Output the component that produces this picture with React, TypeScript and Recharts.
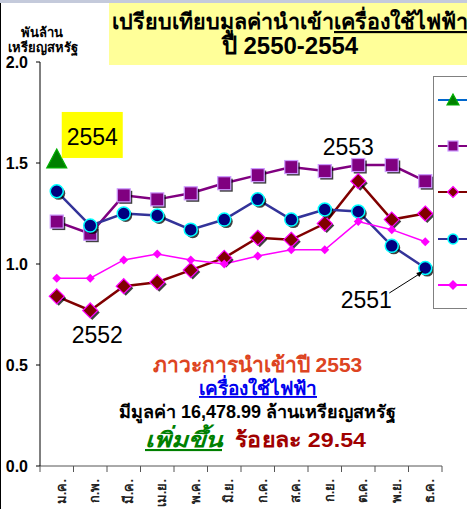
import React from 'react';
import { LineChart, Line, XAxis, YAxis, Legend, LabelList } from 'recharts';

const W = 467;
const H = 509;
const FONT = "'Liberation Sans', Arial, Tahoma, sans-serif";

const months = ['ม.ค.', 'ก.พ.', 'มี.ค.', 'เม.ย.', 'พ.ค.', 'มิ.ย.', 'ก.ค.', 'ส.ค.', 'ก.ย.', 'ต.ค.', 'พ.ย.', 'ธ.ค.'];
const s2550 = [0.93, 0.93, 1.02, 1.05, 1.02, 1.0, 1.04, 1.07, 1.07, 1.21, 1.17, 1.11];
const s2551 = [1.36, 1.19, 1.25, 1.24, 1.17, 1.22, 1.32, 1.22, 1.27, 1.26, 1.09, 0.98];
const s2552 = [0.84, 0.77, 0.89, 0.91, 0.97, 1.03, 1.13, 1.12, 1.2, 1.41, 1.22, 1.25];
const s2553 = [1.21, 1.15, 1.34, 1.32, 1.35, 1.4, 1.44, 1.48, 1.46, 1.49, 1.49, 1.41];
const s2554: (number | null)[] = [1.52, null, null, null, null, null, null, null, null, null, null, null];
const yTicks = [0, 0.5, 1.0, 1.5, 2.0];

const legendItems = [
  { name: '2554', kind: 'triangle', line: '#0066cc' },
  { name: '2553', kind: 'square', line: '#800080' },
  { name: '2552', kind: 'diamond', line: '#800000' },
  { name: '2551', kind: 'circle', line: '#333399' },
  { name: '2550', kind: 'small', line: '#ff00ff' },
];

const data = months.map((m, i) => ({
  month: m,
  y2550: s2550[i],
  y2551: s2551[i],
  y2552: s2552[i],
  y2553: s2553[i],
  y2554: s2554[i],
}));

const MARGIN = { top: 62, right: 25, bottom: 0, left: 0 };
const YW = 40;
const XH = 43;
const BAND = (W - MARGIN.left - MARGIN.right - YW) / months.length;

function shape(kind: string, cx: number, cy: number, legend: boolean): React.ReactNode {
  const sh = legend ? 0 : 2;
  switch (kind) {
    case 'square': {
      const h = legend ? 5 : 6.5;
      return (
        <>
          {sh > 0 && <rect x={cx - h + sh} y={cy - h + sh} width={2 * h} height={2 * h} fill="#000" opacity={0.75} />}
          <rect x={cx - h} y={cy - h} width={2 * h} height={2 * h} fill="#800080" stroke="#cc99ff" strokeWidth={1.2} />
        </>
      );
    }
    case 'diamond': {
      const h = legend ? 5.5 : 7.5;
      const pts = (dx: number, dy: number) =>
        `${cx + dx},${cy - h + dy} ${cx + h + dx},${cy + dy} ${cx + dx},${cy + h + dy} ${cx - h + dx},${cy + dy}`;
      return (
        <>
          {sh > 0 && <polygon points={pts(sh, sh)} fill="#000" opacity={0.75} />}
          <polygon points={pts(0, 0)} fill="#800000" stroke="#ff00ff" strokeWidth={1.2} />
        </>
      );
    }
    case 'circle': {
      const r = legend ? 5 : 6.5;
      return (
        <>
          {sh > 0 && <circle cx={cx + sh} cy={cy + sh} r={r} fill="#000" opacity={0.75} />}
          <circle cx={cx} cy={cy} r={r} fill="#000080" stroke="#00ffff" strokeWidth={1.5} />
        </>
      );
    }
    case 'small': {
      const h = legend ? 5 : 4.5;
      return (
        <polygon
          points={`${cx},${cy - h} ${cx + h},${cy} ${cx},${cy + h} ${cx - h},${cy}`}
          fill="#ff00ff"
        />
      );
    }
    case 'triangle':
    default: {
      const hw = legend ? 6 : 10;
      const up = legend ? 6 : 10;
      const dn = legend ? 5 : 9;
      return (
        <polygon
          points={`${cx},${cy - up} ${cx + hw},${cy + dn} ${cx - hw},${cy + dn}`}
          fill="#008000"
          stroke="#00b000"
          strokeWidth={1.2}
        />
      );
    }
  }
}

const makeDot = (kind: string) => (p: any) => {
  const key = `${kind}-${p.index}`;
  if (p.cx == null || p.cy == null || p.value == null || Number.isNaN(p.cy)) return <g key={key} />;
  return <g key={key}>{shape(kind, p.cx, p.cy, false)}</g>;
};

const XTick = (props: any) => {
  const { x, y, payload, index } = props;
  const half = BAND / 2;
  return (
    <g>
      <line x1={x - half} x2={x - half} y1={y} y2={y + 6} stroke="#555" />
      {index === months.length - 1 && <line x1={x + half} x2={x + half} y1={y} y2={y + 6} stroke="#555" />}
      <text
        transform={`translate(${x + 9},${y + 13}) rotate(-90)`}
        textAnchor="end"
        fontSize={13}
        fontWeight="bold"
        fontFamily={FONT}
        fill="#222"
      >
        {payload.value}
      </text>
    </g>
  );
};

const yearLabel = (idx: number, render: (x: number, y: number) => React.ReactNode) => (props: any) => {
  if (props.index !== idx || props.value == null) return null;
  const x = Number(props.x);
  const y = Number(props.y);
  return <g>{render(x, y)}</g>;
};

// The legend box is cut by the right edge of the picture, as in the reference: only its markers show.
const LegendBox = () => (
  <div
    style={{
      width: 140,
      height: 233,
      boxSizing: 'border-box',
      border: '1px solid #808080',
      background: '#fff',
      display: 'flex',
      flexDirection: 'column',
      justifyContent: 'space-around',
    }}
  >
    {legendItems.map((it) => (
      <div key={it.name} title={it.name} style={{ display: 'flex', alignItems: 'center', height: 20 }}>
        <svg width={44} height={20} style={{ flex: 'none' }}>
          <line x1={4} x2={44} y1={10} y2={10} stroke={it.line} strokeWidth={2} />
          {shape(it.kind, 19, 10, true)}
        </svg>
      </div>
    ))}
  </div>
);

export default function App() {
  return (
    <div style={{ position: 'absolute', left: 0, top: 0, width: W, height: H, overflow: 'hidden', background: '#fff' }}>
      <LineChart width={W} height={H} data={data} margin={MARGIN}>
        <XAxis
          dataKey="month"
          scale="band"
          interval={0}
          height={XH}
          tickSize={0}
          tickMargin={0}
          tickLine={false}
          axisLine={{ stroke: '#555' }}
          tick={<XTick />}
        />
        <YAxis
          domain={[0, 2]}
          ticks={yTicks}
          interval={0}
          width={YW}
          tickSize={4}
          tickMargin={8}
          tickFormatter={(v: number) => v.toFixed(1)}
          axisLine={{ stroke: '#000' }}
          tickLine={{ stroke: '#000' }}
          tick={{ fill: '#000', fontSize: 16, fontWeight: 'bold', fontFamily: FONT }}
        />
        <Legend
          layout="vertical"
          align="center"
          verticalAlign="middle"
          content={<LegendBox />}
          wrapperStyle={{ position: 'absolute', left: 433, top: 76, width: 140, height: 233 }}
        />
        <Line
          dataKey="y2553"
          name="2553"
          stroke="#800080"
          strokeWidth={2.5}
          dot={makeDot('square')}
          activeDot={false}
          isAnimationActive={false}
        >
          <LabelList
            dataKey="y2553"
            content={yearLabel(9, (x, y) => (
              <text x={x - 10} y={y - 10} textAnchor="middle" fontSize={23} fontFamily={FONT} fill="#000">
                2553
              </text>
            ))}
          />
        </Line>
        <Line
          dataKey="y2552"
          name="2552"
          stroke="#800000"
          strokeWidth={2.5}
          dot={makeDot('diamond')}
          activeDot={false}
          isAnimationActive={false}
        >
          <LabelList
            dataKey="y2552"
            content={yearLabel(1, (x, y) => (
              <text x={x + 7} y={y + 33} textAnchor="middle" fontSize={23} fontFamily={FONT} fill="#000">
                2552
              </text>
            ))}
          />
        </Line>
        <Line
          dataKey="y2551"
          name="2551"
          stroke="#333399"
          strokeWidth={2.5}
          dot={makeDot('circle')}
          activeDot={false}
          isAnimationActive={false}
        >
          <LabelList
            dataKey="y2551"
            content={yearLabel(11, (x, y) => (
              <>
                <line x1={x - 36} y1={y + 25} x2={x - 6} y2={y + 6} stroke="#000" strokeWidth={1} />
                <polygon
                  points={`${x - 2},${y + 3} ${x - 9},${y + 5} ${x - 6},${y + 9}`}
                  fill="#000"
                />
                <text x={x - 59} y={y + 40} textAnchor="middle" fontSize={23} fontFamily={FONT} fill="#000">
                  2551
                </text>
              </>
            ))}
          />
        </Line>
        <Line
          dataKey="y2550"
          name="2550"
          stroke="#ff00ff"
          strokeWidth={1.5}
          dot={makeDot('small')}
          activeDot={false}
          isAnimationActive={false}
        />
        <Line
          dataKey="y2554"
          name="2554"
          stroke="#0066cc"
          strokeWidth={2}
          dot={makeDot('triangle')}
          activeDot={false}
          isAnimationActive={false}
        >
          <LabelList
            dataKey="y2554"
            content={yearLabel(0, (x, y) => (
              <>
                <rect x={x + 5} y={y - 47} width={61} height={46} fill="#ffff00" />
                <text x={x + 35.5} y={y - 14} textAnchor="middle" fontSize={23} fontFamily={FONT} fill="#000">
                  2554
                </text>
              </>
            ))}
          />
        </Line>
      </LineChart>
      <svg width={W} height={H} style={{ position: 'absolute', left: 0, top: 0, pointerEvents: 'none' }}>
        <rect x={0} y={0} width={W} height={3} fill="#c4cadb" />
        <line x1={0.5} x2={0.5} y1={3} y2={H} stroke="#000" />
        <rect x={109} y={3} width={362} height={62} fill="#ffff99" />
        <text x={112} y={29} fontSize={21.5} fontWeight="bold" fontFamily={FONT} fill="#000">
          <tspan>เปรียบเทียบมูลค่านำเข้า</tspan>
          <tspan textDecoration="underline">เครื่องใช้ไฟฟ้า</tspan>
        </text>
        <text x={290} y={54} textAnchor="middle" fontSize={24} fontWeight="bold" fontFamily={FONT} fill="#000">
          ปี 2550-2554
        </text>
        <text x={42} y={37} textAnchor="middle" fontSize={13} fontWeight="bold" fontFamily={FONT} fill="#000">
          พันล้าน
        </text>
        <text x={43} y={52} textAnchor="middle" fontSize={13} fontWeight="bold" fontFamily={FONT} fill="#000">
          เหรียญสหรัฐ
        </text>
        <text x={257.5} y={372} textAnchor="middle" fontSize={21} fontWeight="bold" fontFamily={FONT} fill="#dd4422">
          ภาวะการนำเข้าปี 2553
        </text>
        <text
          x={258}
          y={395}
          textAnchor="middle"
          fontSize={19}
          fontWeight="bold"
          fontFamily={FONT}
          fill="#0000ee"
          textDecoration="underline"
        >
          เครื่องใช้ไฟฟ้า
        </text>
        <text x={257.5} y={418} textAnchor="middle" fontSize={18} fontWeight="bold" fontFamily={FONT} fill="#000">
          มีมูลค่า 16,478.99 ล้านเหรียญสหรัฐ
        </text>
        <text
          x={145}
          y={447}
          fontSize={21}
          fontWeight="bold"
          fontFamily={FONT}
          fill="#008000"
          fontStyle="italic"
          textDecoration="underline"
          textLength={77}
          lengthAdjust="spacingAndGlyphs"
        >
          เพิ่มขึ้น
        </text>
        <text
          x={235}
          y={447}
          fontSize={21}
          fontWeight="bold"
          fontFamily={FONT}
          fill="#a00000"
          textLength={131}
          lengthAdjust="spacingAndGlyphs"
        >
          ร้อยละ 29.54
        </text>
      </svg>
    </div>
  );
}
